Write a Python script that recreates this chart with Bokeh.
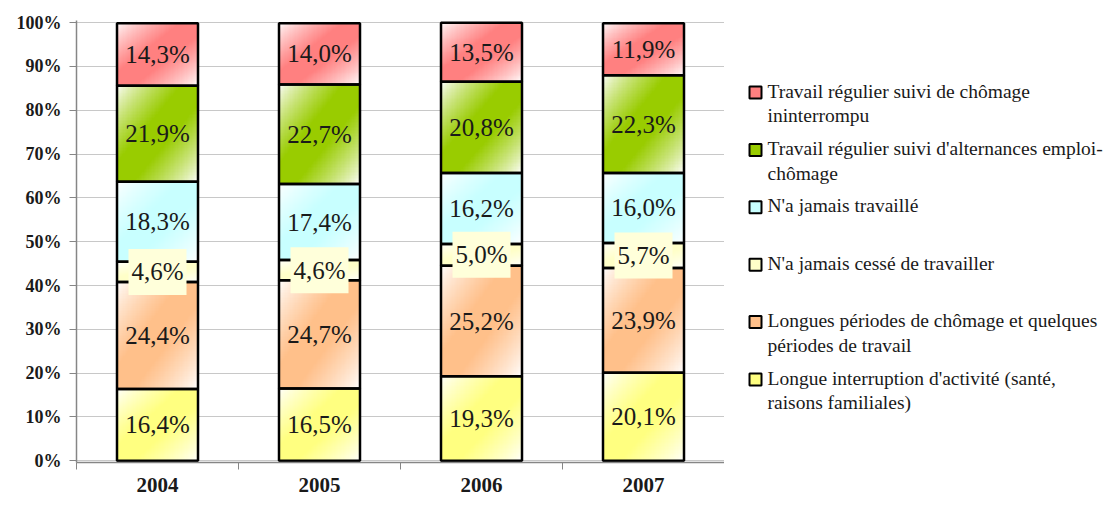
import numpy as np
from bokeh.plotting import figure
from bokeh.layouts import row
from bokeh.models import Range1d, FixedTicker, ColumnDataSource
from bokeh.core.properties import value
from bokeh.embed import file_html
from bokeh.resources import INLINE

# ---------------- data ----------------
years = ["2004", "2005", "2006", "2007"]

# series, bottom -> top
series_names = [
    "Longue interruption d'activité (santé,\nraisons familiales)",
    "Longues périodes de chômage et quelques\npériodes de travail",
    "N'a jamais cessé de travailler",
    "N'a jamais travaillé",
    "Travail régulier suivi d'alternances emploi-\nchômage",
    "Travail régulier suivi de chômage\nininterrompu",
]
longue_interruption = [16.4, 16.5, 19.3, 20.1]
longues_periodes = [24.4, 24.7, 25.2, 23.9]
jamais_cesse = [4.6, 4.6, 5.0, 5.7]
jamais_travaille = [18.3, 17.4, 16.2, 16.0]
alternances = [21.9, 22.7, 20.8, 22.3]
chomage_ininterrompu = [14.3, 14.0, 13.5, 11.9]

series_values = [longue_interruption, longues_periodes, jamais_cesse,
                 jamais_travaille, alternances, chomage_ininterrompu]
series_colors = ["#FFFF80", "#FFC08A", "#FFFFC8", "#C8FFFF", "#99CC00", "#FF8080"]

y_ticks = [0, 10, 20, 30, 40, 50, 60, 70, 80, 90, 100]

SERIF = "'Liberation Serif', 'Times New Roman', 'DejaVu Serif', serif"

H = 499
TOP = 20
BOTTOM = 37


def gradient(hexcol, n=64):
    r, g, b = int(hexcol[1:3], 16), int(hexcol[3:5], 16), int(hexcol[5:7], 16)
    u = np.linspace(0, 1, n)[None, :]
    vtop = np.linspace(1, 0, n)[:, None]
    t = (u + vtop) / 2.0
    f = np.clip(1.25 * (1 - np.abs(2 * t - 1)), 0, 1) ** 0.8
    img = np.empty((n, n), dtype=np.uint32)
    view = img.view(dtype=np.uint8).reshape((n, n, 4))
    view[..., 0] = (255 - (255 - r) * f).astype(np.uint8)
    view[..., 1] = (255 - (255 - g) * f).astype(np.uint8)
    view[..., 2] = (255 - (255 - b) * f).astype(np.uint8)
    view[..., 3] = 255
    return img


# ---------------- main plot ----------------
xc = np.arange(len(years)) + 0.5
bar_w = 0.5

p = figure(width=724, height=H, x_range=Range1d(0, 4), y_range=Range1d(-0.4, 100.5),
           output_backend="svg", toolbar_location=None,
           min_border_left=76, min_border_right=0, min_border_top=TOP, min_border_bottom=BOTTOM)
p.outline_line_color = None
p.background_fill_color = "white"
p.border_fill_color = "white"

bottom = np.zeros(len(years))
segments = []
for name, vals, col in zip(series_names, series_values, series_colors):
    vals = np.array(vals, dtype=float)
    top = bottom + vals
    segments.append((name, vals, col, bottom.copy(), top.copy()))
    bottom = top

# gradient fills
for name, vals, col, b, t in segments:
    img = gradient(col)
    src = ColumnDataSource(dict(image=[img] * len(years), x=xc - bar_w / 2, y=b,
                                dw=[bar_w] * len(years), dh=vals))
    p.image_rgba(image="image", x="x", y="y", dw="dw", dh="dh", source=src)

# outlines
for name, vals, col, b, t in segments:
    p.vbar(x=xc, width=bar_w, bottom=b, top=t, fill_alpha=0, line_color="black", line_width=2.5)

# labels
for i, (name, vals, col, b, t) in enumerate(segments):
    txt = [f"{v:.1f}%".replace(".", ",") for v in vals]
    mid = (b + t) / 2
    if i == 2:
        # pale label box behind the small segment's label
        p.rect(x=xc, y=mid, width=58, height=46, width_units="screen", height_units="screen",
               fill_color="#FFFFDA", line_color=None)
    p.text(x=xc, y=mid, text=txt, text_font=value(SERIF), text_font_size="25px",
           text_align="center", text_baseline="middle", text_color="#1a1a1a")

# axes
p.yaxis.ticker = FixedTicker(ticks=y_ticks)
p.yaxis.major_label_overrides = {v: f"{v}%" for v in y_ticks}
p.yaxis.major_label_text_font = SERIF
p.yaxis.major_label_text_font_style = "bold"
p.yaxis.major_label_text_font_size = "18px"
p.yaxis.major_label_text_color = "#1a1a1a"
p.yaxis.axis_line_color = "#868686"
p.yaxis.axis_line_width = 1.5
p.yaxis.major_tick_line_color = "#868686"
p.yaxis.major_tick_out = 7
p.yaxis.major_tick_in = 0
p.yaxis.minor_tick_line_color = None
p.yaxis.major_label_standoff = 8

p.xaxis.ticker = FixedTicker(ticks=list(xc), minor_ticks=[0, 1, 2, 3, 4])
p.xaxis.major_label_overrides = {float(x): y for x, y in zip(xc, years)}
p.xaxis.major_label_text_font = SERIF
p.xaxis.major_label_text_font_style = "bold"
p.xaxis.major_label_text_font_size = "21px"
p.xaxis.major_label_text_color = "#1a1a1a"
p.xaxis.axis_line_color = "#868686"
p.xaxis.axis_line_width = 1.5
p.xaxis.major_tick_line_color = None
p.xaxis.major_tick_out = 0
p.xaxis.major_tick_in = 0
p.xaxis.minor_tick_line_color = "#868686"
p.xaxis.minor_tick_out = 7
p.xaxis.minor_tick_in = 0
p.xaxis.major_label_standoff = 8

p.xgrid.grid_line_color = None
p.ygrid.ticker = FixedTicker(ticks=y_ticks)
p.ygrid.grid_line_color = "#C8C8C8"
p.ygrid.grid_line_width = 1

# ---------------- legend ----------------
# the legend frame is aligned with the main frame; its range is in pixels from the top
lg = figure(width=380, height=H, x_range=Range1d(0, 380), y_range=Range1d(H - BOTTOM, TOP),
            output_backend="svg", toolbar_location=None,
            x_axis_location=None, y_axis_location=None,
            min_border_left=0, min_border_right=0, min_border_top=TOP, min_border_bottom=BOTTOM)
lg.outline_line_color = None
lg.grid.visible = False

leg_names = series_names[::-1]
leg_colors = series_colors[::-1]
ys = 92 + 57.4 * np.arange(len(leg_names))
lg.scatter(x=31, y=ys, marker="square", size=12, fill_color=leg_colors, line_color="black", line_width=2)
lg.text(x=43, y=ys - 12, text=leg_names, text_font=value(SERIF), text_font_size="19.5px",
        text_align="left", text_baseline="top", text_line_height=1.18, text_color="#1a1a1a")

layout = row(p, lg)
open("out.html", "w").write(file_html(layout, INLINE))
